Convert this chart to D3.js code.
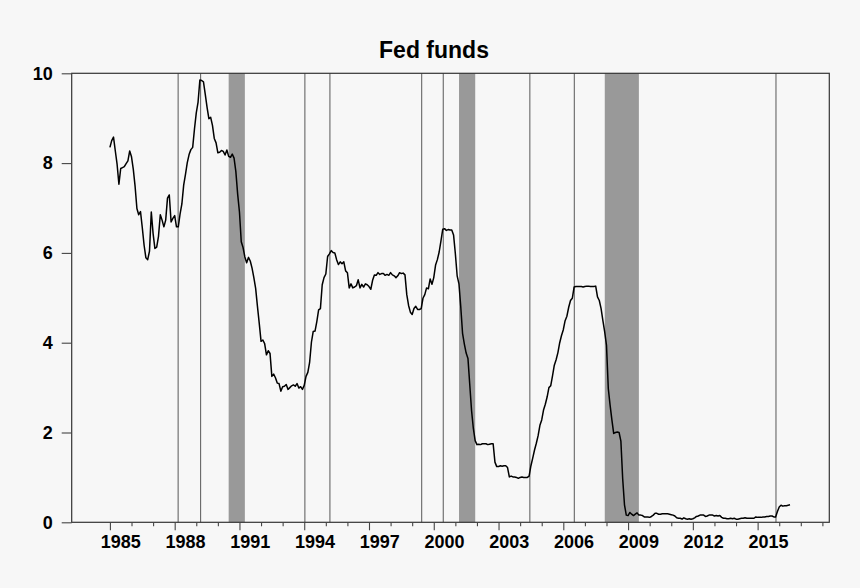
<!DOCTYPE html>
<html><head><meta charset="utf-8">
<script src="https://cdn.jsdelivr.net/npm/d3@7/dist/d3.min.js"></script>
<style>body{margin:0;background:#f7f7f7}svg{display:block}</style>
</head><body><svg id="c" width="860" height="588"></svg>
<script>
const title = "Fed funds";
const startYear = 1985; // first monthly observation: Jan 1985
const fedFunds = [
  8.35,8.50,8.58,8.27,7.97,7.53,7.88,7.90,7.92,7.99,8.05,8.27,
  8.14,7.86,7.48,6.99,6.85,6.92,6.56,6.17,5.89,5.85,6.04,6.91,
  6.43,6.10,6.13,6.37,6.85,6.73,6.58,6.73,7.22,7.29,6.69,6.77,
  6.83,6.58,6.58,6.87,7.09,7.51,7.75,8.01,8.19,8.30,8.35,8.76,
  9.12,9.36,9.85,9.84,9.81,9.53,9.24,8.99,9.02,8.84,8.55,8.45,
  8.23,8.24,8.28,8.26,8.18,8.29,8.15,8.13,8.20,8.11,7.81,7.31,
  6.91,6.25,6.12,5.91,5.78,5.90,5.82,5.66,5.45,5.21,4.81,4.43,
  4.03,4.06,3.98,3.73,3.82,3.76,3.25,3.30,3.22,3.10,3.09,2.92,
  3.02,3.03,3.07,2.96,3.00,3.04,3.06,3.03,3.09,2.99,3.02,2.96,
  3.05,3.25,3.34,3.56,4.01,4.25,4.26,4.47,4.73,4.76,5.29,5.45,
  5.53,5.92,5.98,6.05,6.01,6.00,5.85,5.74,5.80,5.76,5.80,5.60,
  5.56,5.22,5.31,5.22,5.24,5.27,5.40,5.22,5.30,5.24,5.31,5.29,
  5.25,5.19,5.39,5.51,5.50,5.56,5.52,5.54,5.54,5.50,5.52,5.50,
  5.56,5.51,5.49,5.45,5.49,5.56,5.54,5.55,5.51,5.07,4.83,4.68,
  4.63,4.76,4.81,4.74,4.74,4.76,4.99,5.07,5.22,5.20,5.42,5.30,
  5.45,5.73,5.85,6.02,6.27,6.53,6.54,6.50,6.52,6.51,6.51,6.40,
  5.98,5.49,5.31,4.80,4.21,3.97,3.77,3.65,3.07,2.49,2.09,1.82,
  1.73,1.74,1.73,1.75,1.75,1.75,1.73,1.74,1.75,1.75,1.34,1.24,
  1.24,1.26,1.25,1.26,1.26,1.22,1.01,1.03,1.01,1.01,1.00,0.98,
  1.00,1.01,1.00,1.00,1.00,1.03,1.26,1.43,1.61,1.76,1.93,2.16,
  2.28,2.50,2.63,2.79,3.00,3.04,3.26,3.50,3.62,3.78,4.00,4.16,
  4.29,4.49,4.59,4.79,4.94,4.99,5.24,5.25,5.25,5.25,5.25,5.24,
  5.25,5.26,5.26,5.25,5.25,5.25,5.26,5.02,4.94,4.76,4.49,4.24,
  3.94,2.98,2.61,2.28,1.98,2.00,2.01,2.00,1.81,0.97,0.39,0.16,
  0.15,0.22,0.18,0.15,0.18,0.21,0.16,0.16,0.15,0.12,0.12,0.12,
  0.11,0.13,0.16,0.20,0.20,0.18,0.18,0.19,0.19,0.19,0.19,0.18,
  0.17,0.16,0.14,0.10,0.09,0.09,0.07,0.10,0.08,0.07,0.08,0.07,
  0.08,0.10,0.13,0.14,0.16,0.16,0.16,0.13,0.14,0.16,0.16,0.16,
  0.14,0.15,0.14,0.15,0.11,0.09,0.09,0.08,0.08,0.09,0.08,0.09,
  0.07,0.07,0.08,0.09,0.09,0.10,0.09,0.09,0.09,0.09,0.09,0.12,
  0.11,0.11,0.11,0.12,0.12,0.13,0.13,0.14,0.14,0.12,0.12,0.24,
  0.34,0.38,0.36,0.37,0.37,0.38,0.39
];
const recessions = [[1990.5, 1991.25], [2001.17, 2001.92], [2007.92, 2009.5]];
const eventLines = [1988.16, 1989.2, 1994.03, 1995.19, 1999.44, 2000.44, 2004.45, 2006.51, 2015.85];
const yTicks = [0, 2, 4, 6, 8, 10];
const xTickYears = d3.range(1985, 2019);
const xLabelYears = [1985, 1988, 1991, 1994, 1997, 2000, 2003, 2006, 2009, 2012, 2015];

const svg = d3.select("#c");
svg.append("rect").attr("width", 860).attr("height", 588).attr("fill", "#f7f7f7");

const L = 71.7, R = 829.3, T = 73.3, B = 522.3;
const x = d3.scaleLinear().domain([1983.23, 2018.32]).range([L, R]);
const y = d3.scaleLinear().domain([0, 10]).range([B, T]);

const font = "'Liberation Sans', Arial, sans-serif";

// recession shading
svg.append("g").selectAll("rect").data(recessions).join("rect")
  .attr("x", d => x(d[0])).attr("y", T)
  .attr("width", d => x(d[1]) - x(d[0])).attr("height", B - T)
  .attr("fill", "#999999");

// event lines
svg.append("g").selectAll("line").data(eventLines).join("line")
  .attr("x1", d => x(d)).attr("x2", d => x(d))
  .attr("y1", T).attr("y2", B)
  .attr("stroke", "#666").attr("stroke-width", 1.1);

// series line
const pts = fedFunds.map((v, i) => [startYear + i / 12, v]);
svg.append("path").datum(pts)
  .attr("d", d3.line().x(d => x(d[0])).y(d => y(d[1])))
  .attr("fill", "none").attr("stroke", "#000").attr("stroke-width", 1.5)
  .attr("stroke-linejoin", "round");

// frame
svg.append("rect").attr("x", L).attr("y", T).attr("width", R - L).attr("height", B - T)
  .attr("fill", "none").attr("stroke", "#333").attr("stroke-width", 1.2);

// y axis
const yAxis = d3.axisLeft(y).tickValues(yTicks).tickSize(10).tickPadding(9).tickFormat(d3.format("d"));
const gy = svg.append("g").attr("transform", `translate(${L},0)`).call(yAxis);
gy.select(".domain").remove();
gy.selectAll(".tick line").attr("stroke", "#444").attr("stroke-width", 1.1);
gy.selectAll(".tick text").attr("font-family", font).attr("font-weight", "bold")
  .attr("font-size", 18).attr("fill", "#000");

// x axis: minor ticks every year, major ticks on labelled years
const xAxisMinor = d3.axisBottom(x).tickValues(xTickYears.filter(d => !xLabelYears.includes(d))).tickSize(4).tickFormat("");
const gxm = svg.append("g").attr("transform", `translate(0,${B})`).call(xAxisMinor);
gxm.select(".domain").remove();
gxm.selectAll(".tick line").attr("stroke", "#444").attr("stroke-width", 1.1);

const xAxisMajor = d3.axisBottom(x).tickValues(xLabelYears).tickSize(8).tickFormat("");
const gxM = svg.append("g").attr("transform", `translate(0,${B})`).call(xAxisMajor);
gxM.select(".domain").remove();
gxM.selectAll(".tick line").attr("stroke", "#444").attr("stroke-width", 1.1);

// labels centered mid-year
svg.append("g").selectAll("text").data(xLabelYears).join("text")
  .attr("x", d => x(d + 0.5)).attr("y", 548)
  .attr("text-anchor", "middle")
  .attr("font-family", font).attr("font-weight", "bold").attr("font-size", 18)
  .text(d => d);

// title
svg.append("text").attr("x", 434).attr("y", 58).attr("text-anchor", "middle")
  .attr("font-family", font).attr("font-weight", "bold").attr("font-size", 23)
  .text(title);
</script></body></html>
